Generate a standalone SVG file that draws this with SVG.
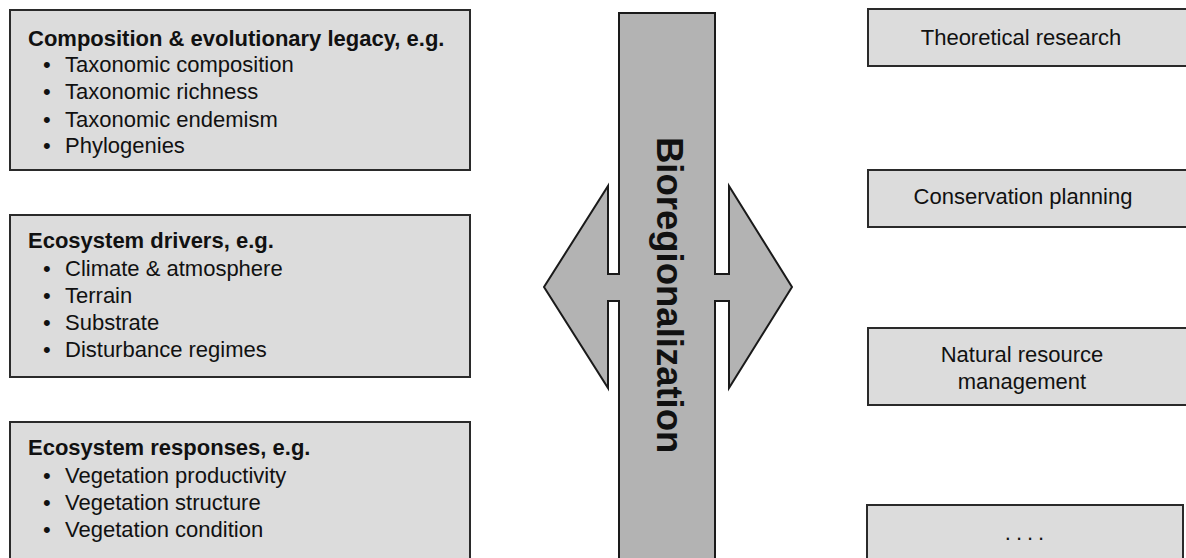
<svg xmlns="http://www.w3.org/2000/svg" width="1186" height="558" viewBox="0 0 1186 558">
<style>
.box{fill:#dcdcdc;stroke:#2a2a2a;stroke-width:2}
.bar{fill:#b3b3b3;stroke:#1a1a1a;stroke-width:2;stroke-linejoin:miter}
text{font-family:"Liberation Sans",Arial,sans-serif;font-size:22px;fill:#111}
.h{font-weight:bold}
.c{text-anchor:middle}
.big{font-size:36.5px;font-weight:bold}
</style>
<rect width="1186" height="558" fill="#ffffff"/>
<g id="composition">
<rect class="box" x="10" y="10" width="460" height="160"/>
<text class="h" x="28" y="46">Composition &amp; evolutionary legacy, e.g.</text>
<text x="43" y="72">•</text><text x="65" y="72">Taxonomic composition</text>
<text x="43" y="99">•</text><text x="65" y="99">Taxonomic richness</text>
<text x="43" y="126.5">•</text><text x="65" y="126.5">Taxonomic endemism</text>
<text x="43" y="153">•</text><text x="65" y="153">Phylogenies</text>
</g>
<g id="drivers">
<rect class="box" x="10" y="215" width="460" height="162"/>
<text class="h" x="28" y="248">Ecosystem drivers, e.g.</text>
<text x="43" y="276">•</text><text x="65" y="276">Climate &amp; atmosphere</text>
<text x="43" y="303">•</text><text x="65" y="303">Terrain</text>
<text x="43" y="329.5">•</text><text x="65" y="329.5">Substrate</text>
<text x="43" y="356.5">•</text><text x="65" y="356.5">Disturbance regimes</text>
</g>
<g id="responses">
<rect class="box" x="10" y="422" width="460" height="150"/>
<text class="h" x="28" y="455">Ecosystem responses, e.g.</text>
<text x="43" y="483">•</text><text x="65" y="483">Vegetation productivity</text>
<text x="43" y="510">•</text><text x="65" y="510">Vegetation structure</text>
<text x="43" y="537">•</text><text x="65" y="537">Vegetation condition</text>
</g>
<g id="bioregionalization">
<path class="bar" d="M619,570 L619,301 L608,301 L608,388 L544,287 L608,186 L608,274 L619,274 L619,13 L715,13 L715,274 L729,274 L729,186 L792,287 L729,388 L729,301 L715,301 L715,570 Z"/>
<text class="big" transform="translate(657,137) rotate(90)">Bioregionalization</text>
</g>
<g id="theoretical">
<rect class="box" x="868" y="9" width="330" height="57"/>
<text class="c" x="1021" y="45">Theoretical research</text>
</g>
<g id="conservation">
<rect class="box" x="868" y="170" width="330" height="57"/>
<text class="c" x="1023" y="204">Conservation planning</text>
</g>
<g id="nrm">
<rect class="box" x="868" y="328" width="330" height="77"/>
<text class="c" x="1022" y="362">Natural resource</text>
<text class="c" x="1022" y="389">management</text>
</g>
<g id="more">
<rect class="box" x="867" y="505" width="316" height="70"/>
<text class="c" x="1027" y="540" style="letter-spacing:5px">....</text>
</g>
<g id="connectors"></g>
</svg>
